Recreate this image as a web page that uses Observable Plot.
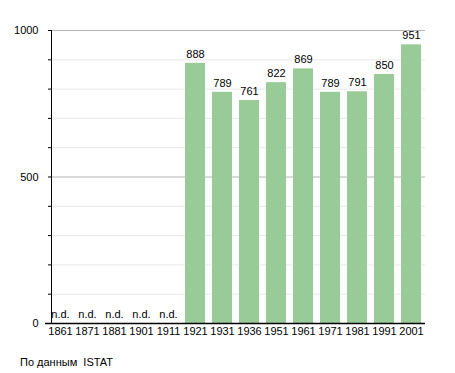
<!DOCTYPE html>
<html><head><meta charset="utf-8">
<script src="https://cdn.jsdelivr.net/npm/d3@7"></script>
<script src="https://cdn.jsdelivr.net/npm/@observablehq/plot@0.6"></script>
<style>
body{margin:0;background:#fff;font-family:"Liberation Sans",Arial,sans-serif;}
#chart svg{display:block;}
#cap{font-size:11px;color:#000;margin:11px 0 0 20px;line-height:13px;}
</style></head><body>
<div id="chart"></div>
<div id="cap">По данным&nbsp; ISTAT</div>
<script>
const years = ["1861","1871","1881","1901","1911","1921","1931","1936","1951","1961","1971","1981","1991","2001"];
const population = [null,null,null,null,null,888,789,761,822,869,789,791,850,951];
const yTicks = [0,100,200,300,400,500,600,700,800,900,1000];
const data = years.map((y,i)=>({year:y, value:population[i]}));
const known = data.filter(d=>d.value!=null);
const missing = data.filter(d=>d.value==null);
const chart = Plot.plot({
  width:455, height:345,
  marginLeft:45, marginRight:30, marginTop:30, marginBottom:22,
  style:{fontFamily:"Liberation Sans, Arial, sans-serif", fontSize:"11px", color:"#000", background:"#fff"},
  x:{domain:years, paddingInner:0.275, paddingOuter:0.07, label:null},
  y:{domain:[0,1000], label:null},
  marks:[
    Plot.ruleY(yTicks.filter(t=>t%500!==0), {stroke:"#e8e8e8", strokeWidth:1, insetLeft:6}),
    Plot.ruleY([500,1000], {stroke:"#b4b4b4", strokeWidth:1, insetLeft:6}),
    Plot.barY(known, {x:"year", y:"value", fill:"#98cb98"}),
    Plot.text(known, {x:"year", y:"value", text:d=>String(d.value), dy:-9, fill:"#000", fontSize:11}),
    Plot.text(missing, {x:"year", y:0, text:()=>"n.d.", dy:-9, fill:"#000", fontSize:11}),
    Plot.axisY({ticks:yTicks, tickSize:3, tickPadding:10, dx:6, tickFormat:d=>d%500===0?String(d):"", label:null, stroke:"#000", fill:"#000"}),
    Plot.axisX({tickSize:0, tickPadding:4, label:null, fill:"#000"}),
    Plot.frame({anchor:"left", stroke:"#000", dx:6}),
    Plot.ruleY([0], {stroke:"#000", strokeWidth:1.3})
  ]
});
document.getElementById("chart").appendChild(chart);
</script>
</body></html>
